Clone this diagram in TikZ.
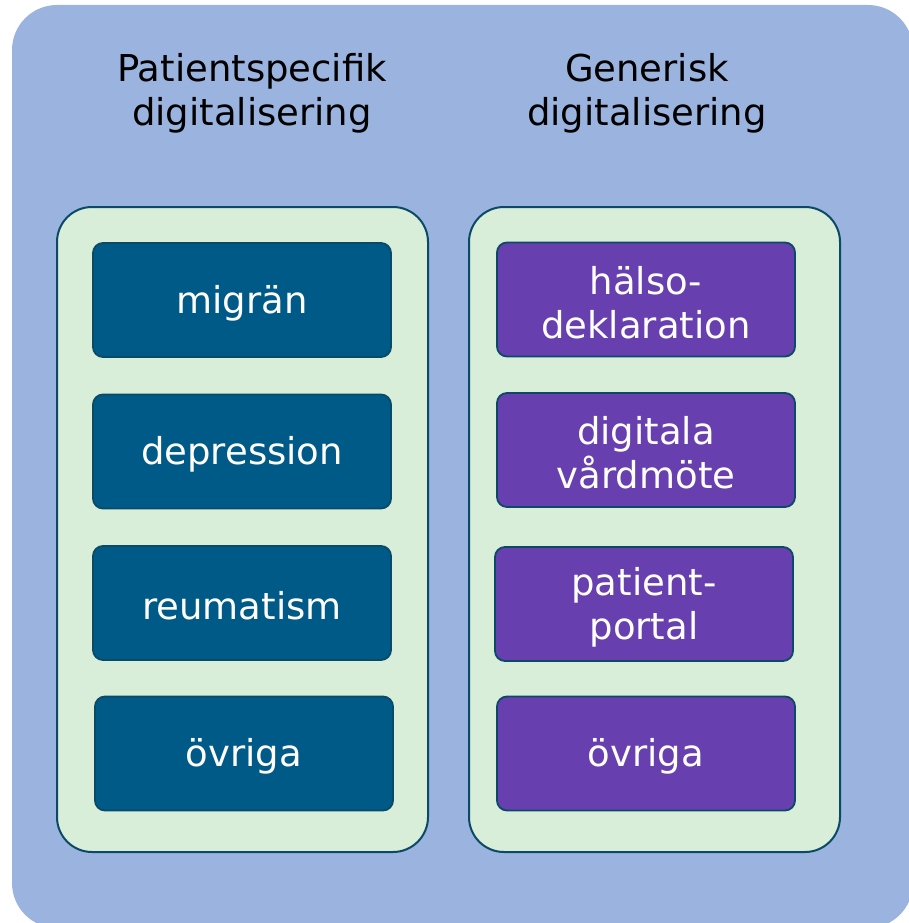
\documentclass[tikz,border=0pt]{standalone}
\usepackage{fontspec}
\setmainfont{DejaVu Sans}
\usepackage{tikz}

\definecolor{bakgrund}{HTML}{9BB4DF}
\definecolor{panelgron}{HTML}{D8EED8}
\definecolor{kantbla}{HTML}{0B4A66}
\definecolor{specbla}{HTML}{005A87}
\definecolor{generlila}{HTML}{673FAF}

\begin{document}
\begin{tikzpicture} [x = 1pt, y = -1pt, font = \fontsize{37}{44}\selectfont]
            % Estilos
            \tikzstyle{panel}=[draw=kantbla, line width=2pt, fill=panelgron, rounded corners=35pt, minimum width=371pt, minimum height=645pt]
            \tikzstyle{spec}=[draw=kantbla, line width=1.8pt, fill=specbla, rounded corners=10pt, minimum width=298pt, minimum height=114pt]
            \tikzstyle{gener}=[spec, fill=generlila]
            \tikzstyle{etikett}=[align=center, text=white]
            \tikzstyle{rubrik}=[align=center, text=black]

            % Fundo
            \useasboundingbox (0,0) rectangle (908,923);
            \fill[bakgrund, rounded corners=45pt] (12,5) rectangle (913,928);

            % Títulos
            \node[rubrik] (rspec) at (252,93) {Patientspecifik\\digitalisering};
            \node[rubrik] (rgener) at (647,93) {Generisk\\digitalisering};

            % Painéis
            \node[panel] (pspec) at (242.5,529.5) {};
            \node[panel] (pgener) at (654.5,529.5) {};

            % Caixas
            \node[spec] (migran) at (242,300) {};
            \node[spec] (depression) at (242,451.5) {};
            \node[spec] (reumatism) at (242,603) {};
            \node[spec] (ovrigaspec) at (244,753.5) {};

            \node[gener] (halso) at (646,299.5) {};
            \node[gener] (digitala) at (646,450) {};
            \node[gener] (patient) at (644,604) {};
            \node[gener] (ovrigagener) at (646,753.5) {};

            % Textos
            \node[etikett] (tmigran) at (242,303) {migrän};
            \node[etikett] (tdepression) at (242,454.5) {depression};
            \node[etikett] (treumatism) at (242,606) {reumatism};
            \node[etikett] (tovrigaspec) at (244,756.5) {övriga};

            \node[etikett] (thalso) at (646,302.5) {hälso-\\deklaration};
            \node[etikett] (tdigitala) at (646,453) {digitala\\vårdmöte};
            \node[etikett] (tpatient) at (644,607) {patient-\\portal};
            \node[etikett] (tovrigagener) at (646,756.5) {övriga};
        \end{tikzpicture}
\end{document}
